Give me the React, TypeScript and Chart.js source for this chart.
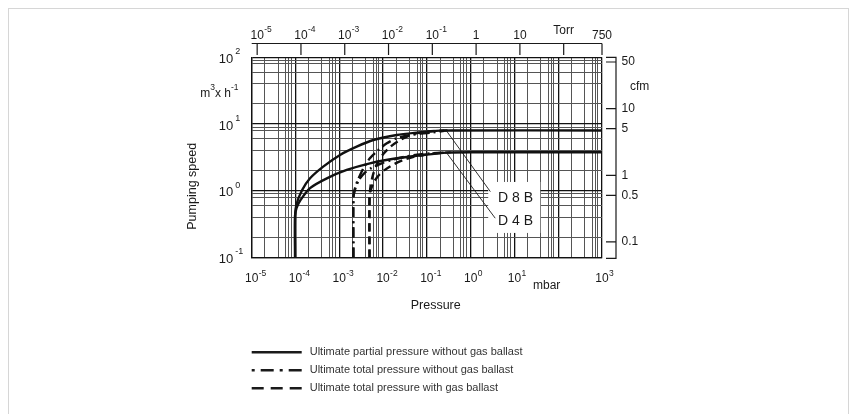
import React, { useEffect, useRef } from "react";
import { Chart, registerables } from "chart.js";

Chart.register(...registerables);

// ---------- data (pressure in mbar, pumping speed in m3/h) ----------
const solid8Pressure = [9.8e-5, 9.8e-5, 1.05e-4, 1.42e-4, 2.15e-4, 4.3e-4, 1.04e-3, 2.5e-3, 6e-3, 0.0206, 0.059, 0.2, 0.4, 1000];
const solid8Speed = [0.1, 0.42, 0.62, 1.02, 1.53, 2.29, 3.43, 4.57, 5.75, 6.84, 7.4, 7.95, 8.0, 8.0];

const solid4Pressure = [9.8e-5, 9.8e-5, 1.06e-4, 1.3e-4, 2.15e-4, 5.2e-4, 1.48e-3, 5e-3, 0.0206, 0.083, 0.286, 1, 1000];
const solid4Speed = [0.1, 0.42, 0.55, 0.72, 1.09, 1.53, 2.04, 2.57, 3.06, 3.43, 3.72, 3.77, 3.77];

const dashDot8Pressure = [2.1e-3, 2.1e-3, 2.3e-3, 2.6e-3, 3.56e-3, 5.0e-3, 7.8e-3, 0.0122, 0.0206, 0.0415, 0.119, 0.25];
const dashDot8Speed = [0.1, 0.8, 1.1, 1.4, 2.17, 3.06, 4.07, 5.13, 6.1, 6.84, 7.4, 7.9];

const dashDot4Pressure = [2.1e-3, 2.1e-3, 2.3e-3, 2.8e-3, 3.8e-3, 5.5e-3, 9e-3, 0.015, 0.03, 0.06, 0.12, 0.25];
const dashDot4Speed = [0.1, 0.8, 1.05, 1.45, 1.85, 2.2, 2.55, 2.85, 3.2, 3.45, 3.62, 3.72];

const dashed8Pressure = [4.9e-3, 4.9e-3, 5.2e-3, 6e-3, 7.5e-3, 0.01, 0.015, 0.025, 0.045, 0.08, 0.15, 0.3];
const dashed8Speed = [0.1, 0.75, 1.2, 1.8, 2.6, 3.5, 4.6, 5.8, 6.9, 7.5, 7.85, 8.0];

const dashed4Pressure = [4.9e-3, 4.9e-3, 5.2e-3, 6.2e-3, 8e-3, 0.011, 0.018, 0.03, 0.05, 0.09, 0.18, 0.35];
const dashed4Speed = [0.1, 0.75, 1.0, 1.35, 1.7, 2.05, 2.5, 2.9, 3.2, 3.45, 3.65, 3.75];

// axes
const xMinExp = -5;
const xMaxExp = 3;
const yMinExp = -1;
const yMaxExp = 2;
const xGridMinors = [2, 4, 6, 7, 8];
const yGridMinors = [2, 4, 6, 8, 9];
const xTickExps = [-5, -4, -3, -2, -1, 0, 1, 3];
const yTickExps = [-1, 0, 1, 2];
const torrTickValues = [1e-5, 1e-4, 1e-3, 1e-2, 1e-1, 1, 10, 100, 750];
const torrTickBase = ["10", "10", "10", "10", "10", "1", "10", "Torr", "750"];
const torrTickExp = ["-5", "-4", "-3", "-2", "-1", "", "", "", ""];
const cfmTickValues = [50, 10, 5, 1, 0.5, 0.1];
const cfmTickLabels = ["50", "10", "5", "1", "0.5", "0.1"];
const TORR_TO_MBAR = 1.33322;
const CFM_PER_M3H = 0.58858;

const label8 = "D 8 B";
const label4 = "D 4 B";

const legendLabels = [
  "Ultimate partial pressure without gas ballast",
  "Ultimate total pressure without gas ballast",
  "Ultimate total pressure with gas ballast",
];

const FONT = "'Liberation Sans', Arial, Helvetica, sans-serif";
const INK = "#1a1a1a";

function pts(xs: number[], ys: number[]) {
  return xs.map((x, i) => ({ x, y: ys[i] }));
}

function gridValues(minE: number, maxE: number, minors: number[]) {
  const out: number[] = [];
  for (let e = minE; e < maxE; e++) {
    out.push(Math.pow(10, e));
    for (const m of minors) out.push(m * Math.pow(10, e));
  }
  out.push(Math.pow(10, maxE));
  return out;
}

function isMajor(v: number) {
  const l = Math.log10(v);
  return Math.abs(l - Math.round(l)) < 1e-6;
}

const DASH_DOT = [10, 4, 2, 4];
const DASHED = [8, 5];

const decorPlugin = {
  id: "decor",
  afterDatasetsDraw(chart: any) {
    const { ctx, chartArea, scales } = chart;
    const xs = scales.x;
    const ys = scales.y;
    const L = chartArea.left;
    const R = chartArea.right;
    const T = chartArea.top;
    const B = chartArea.bottom;
    ctx.save();
    ctx.fillStyle = INK;
    ctx.strokeStyle = INK;

    // ---- annotation: white box, leader lines, labels
    const bx0 = xs.getPixelForValue(2.52);
    const bx1 = xs.getPixelForValue(38.9);
    const by0 = ys.getPixelForValue(1.35);
    const by1 = ys.getPixelForValue(0.232);
    ctx.fillStyle = "#fff";
    ctx.fillRect(bx0, by0, bx1 - bx0, by1 - by0);
    ctx.lineWidth = 0.9;
    ctx.beginPath();
    ctx.moveTo(xs.getPixelForValue(0.28), ys.getPixelForValue(7.9));
    ctx.lineTo(xs.getPixelForValue(2.82), ys.getPixelForValue(0.966));
    ctx.moveTo(xs.getPixelForValue(0.28), ys.getPixelForValue(3.72));
    ctx.lineTo(xs.getPixelForValue(3.64), ys.getPixelForValue(0.386));
    ctx.stroke();
    ctx.fillStyle = INK;
    ctx.font = `14px ${FONT}`;
    ctx.textAlign = "left";
    ctx.textBaseline = "middle";
    ctx.fillText(label8, xs.getPixelForValue(4.24), ys.getPixelForValue(0.778));
    ctx.fillText(label4, xs.getPixelForValue(4.24), ys.getPixelForValue(0.343));

    // ---- bottom tick labels
    for (const e of xTickExps) {
      const px = xs.getPixelForValue(Math.pow(10, e));
      ctx.font = `12px ${FONT}`;
      ctx.textAlign = "center";
      ctx.fillText("10", px, B + 21.5);
      ctx.font = `8.5px ${FONT}`;
      ctx.textAlign = "left";
      ctx.fillText(String(e), px + 7, B + 16);
    }
    ctx.font = `12px ${FONT}`;
    ctx.textAlign = "center";
    ctx.fillText("mbar", L + 295, B + 28.5);
    ctx.font = `12.5px ${FONT}`;
    ctx.fillText("Pressure", L + 184, B + 48);

    // ---- left tick labels
    for (const e of yTickExps) {
      const py = ys.getPixelForValue(Math.pow(10, e));
      ctx.font = `13px ${FONT}`;
      ctx.textAlign = "right";
      ctx.fillText("10", L - 18.5, py + 2);
      ctx.font = `9px ${FONT}`;
      ctx.textAlign = "left";
      ctx.fillText(String(e), L - 16.5, py - 5.5);
    }
    // unit m3 x h-1
    {
      let x = L - 51.5;
      const yb = T + 36;
      ctx.textAlign = "left";
      ctx.font = `12px ${FONT}`;
      ctx.fillText("m", x, yb);
      x += ctx.measureText("m").width;
      ctx.font = `8.5px ${FONT}`;
      ctx.fillText("3", x, yb - 5.5);
      x += ctx.measureText("3").width;
      ctx.font = `12px ${FONT}`;
      ctx.fillText("x h", x, yb);
      x += ctx.measureText("x h").width;
      ctx.font = `8.5px ${FONT}`;
      ctx.fillText("-1", x, yb - 5.5);
    }
    // Pumping speed
    ctx.save();
    ctx.translate(L - 59, T + 129);
    ctx.rotate(-Math.PI / 2);
    ctx.font = `12.5px ${FONT}`;
    ctx.textAlign = "center";
    ctx.fillText("Pumping speed", 0, 0);
    ctx.restore();

    // ---- top Torr axis
    const topY = T - 13.8;
    ctx.lineWidth = 1.2;
    ctx.beginPath();
    ctx.moveTo(L, topY);
    ctx.lineTo(R, topY);
    for (const t of torrTickValues) {
      const px = Math.min(xs.getPixelForValue(t * TORR_TO_MBAR), R);
      ctx.moveTo(px, topY);
      ctx.lineTo(px, topY + 11.5);
    }
    ctx.stroke();
    torrTickValues.forEach((t, i) => {
      const px = Math.min(xs.getPixelForValue(t * TORR_TO_MBAR), R);
      const base = torrTickBase[i];
      const ex = torrTickExp[i];
      ctx.font = `12px ${FONT}`;
      ctx.textAlign = "center";
      if (base === "Torr") {
        ctx.fillText(base, px, T - 26.5);
      } else {
        ctx.fillText(base, px, T - 22);
      }
      if (ex) {
        ctx.font = `8.5px ${FONT}`;
        ctx.textAlign = "left";
        ctx.fillText(ex, px + 7, T - 27.3);
      }
    });

    // ---- right cfm axis
    const rx = R + 14;
    ctx.lineWidth = 1.2;
    ctx.beginPath();
    ctx.moveTo(rx - 10, T);
    ctx.lineTo(rx, T);
    ctx.lineTo(rx, B + 1);
    ctx.lineTo(rx - 10, B + 1);
    for (const c of cfmTickValues) {
      const py = ys.getPixelForValue(c / CFM_PER_M3H);
      ctx.moveTo(rx - 10, py);
      ctx.lineTo(rx, py);
    }
    ctx.stroke();
    ctx.font = `12px ${FONT}`;
    ctx.textAlign = "left";
    cfmTickValues.forEach((c, i) => {
      const py = ys.getPixelForValue(c / CFM_PER_M3H);
      ctx.fillText(cfmTickLabels[i], rx + 5.5, py);
    });
    ctx.font = `12px ${FONT}`;
    ctx.fillText("cfm", rx + 14, T + 29.5);

    // ---- legend
    const legY = [B + 95, B + 113, B + 131];
    const dashes = [[], [3, 6, 13, 6], [12, 7]];
    legendLabels.forEach((lab, i) => {
      ctx.lineWidth = 2.4;
      ctx.setLineDash(dashes[i]);
      ctx.beginPath();
      ctx.moveTo(L, legY[i]);
      ctx.lineTo(L + 50, legY[i]);
      ctx.stroke();
      ctx.setLineDash([]);
      ctx.font = `11px ${FONT}`;
      ctx.fillStyle = "#333";
      ctx.textAlign = "left";
      ctx.fillText(lab, L + 58, legY[i]);
      ctx.fillStyle = INK;
    });

    ctx.restore();
  },
};

export default function App() {
  const ref = useRef<HTMLCanvasElement | null>(null);

  useEffect(() => {
    if (!ref.current) return;
    const common = {
      borderColor: "#111",
      borderWidth: 2.4,
      pointRadius: 0,
      fill: false,
      tension: 0.25,
    };
    const gridColor = (c: any) => (c.tick && isMajor(c.tick.value) ? "#111" : "#555");
    const gridWidth = (c: any) => (c.tick && isMajor(c.tick.value) ? 1.3 : 1);
    const chart = new Chart(ref.current, {
      type: "line",
      data: {
        datasets: [
          { ...common, data: pts(solid8Pressure, solid8Speed) },
          { ...common, data: pts(solid4Pressure, solid4Speed) },
          { ...common, borderDash: DASH_DOT, data: pts(dashDot8Pressure, dashDot8Speed) },
          { ...common, borderDash: DASH_DOT, data: pts(dashDot4Pressure, dashDot4Speed) },
          { ...common, borderDash: DASHED, data: pts(dashed8Pressure, dashed8Speed) },
          { ...common, borderDash: DASHED, data: pts(dashed4Pressure, dashed4Speed) },
        ] as any,
      },
      options: {
        animation: false,
        responsive: false,
        layout: { padding: { left: 251.7, right: 256, top: 57.3, bottom: 156.7 } },
        plugins: { legend: { display: false }, tooltip: { enabled: false } },
        scales: {
          x: {
            type: "logarithmic",
            min: Math.pow(10, xMinExp),
            max: Math.pow(10, xMaxExp),
            afterBuildTicks: (s: any) => {
              s.ticks = gridValues(xMinExp, xMaxExp, xGridMinors).map((v) => ({ value: v }));
            },
            ticks: { display: false },
            grid: { drawTicks: false, color: gridColor, lineWidth: gridWidth },
            border: { display: true, color: "#111", width: 1.3 },
          },
          y: {
            type: "logarithmic",
            min: Math.pow(10, yMinExp),
            max: Math.pow(10, yMaxExp),
            afterBuildTicks: (s: any) => {
              s.ticks = gridValues(yMinExp, yMaxExp, yGridMinors).map((v) => ({ value: v }));
            },
            ticks: { display: false },
            grid: { drawTicks: false, color: gridColor, lineWidth: gridWidth },
            border: { display: true, color: "#111", width: 1.3 },
          },
        },
      } as any,
      plugins: [decorPlugin],
    });
    return () => chart.destroy();
  }, []);

  return (
    <div
      style={{
        position: "fixed",
        left: 0,
        top: 0,
        width: 858,
        height: 414,
        background: "#fff",
        overflow: "hidden",
      }}
    >
      <div
        style={{
          position: "absolute",
          left: 8,
          top: 8,
          width: 841,
          height: 430,
          border: "1px solid #d6d6d6",
          boxSizing: "border-box",
        }}
      />
      <canvas ref={ref} width={858} height={414} style={{ position: "absolute", left: 0, top: 0, width: 858, height: 414 }} />
    </div>
  );
}
